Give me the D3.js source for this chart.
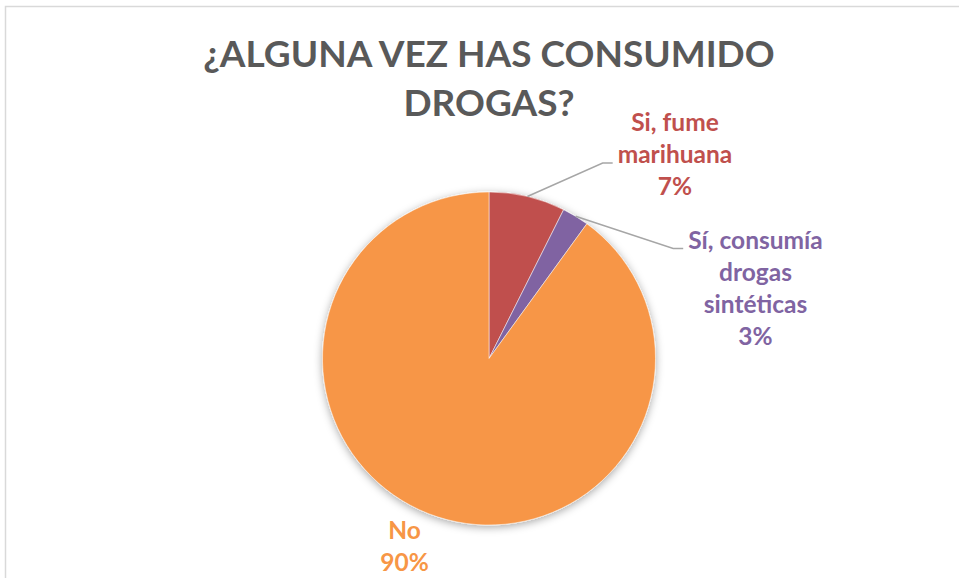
<!DOCTYPE html>
<html>
<head>
<meta charset="utf-8">
<script src="https://cdn.jsdelivr.net/npm/d3@7"></script>
<style>
  body { margin: 0; background: #fff; }
  text { font-family: Lato, "Open Sans", sans-serif; font-weight: bold; }
</style>
</head>
<body>
<div id="chart"></div>
<script>
// data
var categories = ["Si, fume marihuana", "Sí, consumía drogas sintéticas", "No"];
var values = [7.4, 2.6, 90];
var labelLines = [["Si, fume", "marihuana"], ["Sí, consumía", "drogas", "sintéticas"], ["No"]];
var colors = ["#C0504D", "#8064A2", "#F79646"];
var titleLines = ["¿ALGUNA VEZ HAS CONSUMIDO", "DROGAS?"];

var width = 959;
var height = 578;
var cx = 489, cy = 358.5, radius = 166.5;

// label block centers, relative to pie center
var labelOffset = [[186, -203.5], [266.5, -70], [-84.5, 188.8]];
var leaderLine = [1, 0, -1]; // which text line the leader points to (-1 = none)
var lineH = 32;

var svg = d3.select("#chart")
  .append("svg")
  .attr("width", width)
  .attr("height", height);

var defs = svg.append("defs");
var f = defs.append("filter").attr("id", "shadow")
  .attr("x", "-20%").attr("y", "-20%").attr("width", "140%").attr("height", "140%");
f.append("feDropShadow")
  .attr("dx", 0).attr("dy", 2)
  .attr("stdDeviation", 4)
  .attr("flood-color", "#000")
  .attr("flood-opacity", 0.35);

// chart border
svg.append("rect")
  .attr("x", 5.5).attr("y", 6.5)
  .attr("width", width + 10).attr("height", height + 10)
  .attr("fill", "none")
  .attr("stroke", "#d9d9d9")
  .attr("stroke-width", 1.5);

// title
svg.append("g")
  .selectAll("text")
  .data(titleLines)
  .enter()
  .append("text")
  .attr("x", cx)
  .attr("y", function (d, i) { return 67 + i * 49; })
  .attr("text-anchor", "middle")
  .attr("fill", "#595959")
  .attr("font-size", 37)
  .text(function (d) { return d; });

var data = categories.map(function (c, i) {
  return { name: c, value: values[i], lines: labelLines[i], color: colors[i] };
});

var pie = d3.pie()
  .sort(null)
  .value(function (d) { return d.value; });

var arcs = pie(data);

var arc = d3.arc()
  .innerRadius(0)
  .outerRadius(radius);

var g = svg.append("g")
  .attr("transform", "translate(" + cx + "," + cy + ")");

g.append("g")
  .attr("filter", "url(#shadow)")
  .selectAll("path")
  .data(arcs)
  .enter()
  .append("path")
  .attr("d", arc)
  .attr("fill", function (d) { return d.data.color; })
  .attr("stroke", "#fff")
  .attr("stroke-width", 0.5);

var total = d3.sum(values);

arcs.forEach(function (a, i) {
  var lines = a.data.lines.concat([Math.round(a.data.value / total * 100) + "%"]);
  var ox = labelOffset[i][0], oy = labelOffset[i][1];
  var top = oy - (lines.length - 1) * lineH / 2;

  var t = g.append("text")
    .attr("text-anchor", "middle")
    .attr("fill", a.data.color)
    .attr("font-size", 24.5);
  lines.forEach(function (l, j) {
    t.append("tspan")
      .attr("x", ox)
      .attr("y", top + j * lineH + 8)
      .text(l);
  });

  var k = leaderLine[i];
  if (k >= 0) {
    var mid = (a.startAngle + a.endAngle) / 2;
    var sx = Math.sin(mid) * radius, sy = -Math.cos(mid) * radius;
    var w = t.select("tspan:nth-child(" + (k + 1) + ")").node().getComputedTextLength();
    var ey = top + k * lineH + 8;
    var ex = ox - w / 2 - 5;
    g.append("path")
      .attr("d", d3.line()([[sx, sy], [ex - 10, ey], [ex, ey]]))
      .attr("fill", "none")
      .attr("stroke", "#a6a6a6")
      .attr("stroke-width", 1.5);
  }
});
</script>
</body>
</html>
